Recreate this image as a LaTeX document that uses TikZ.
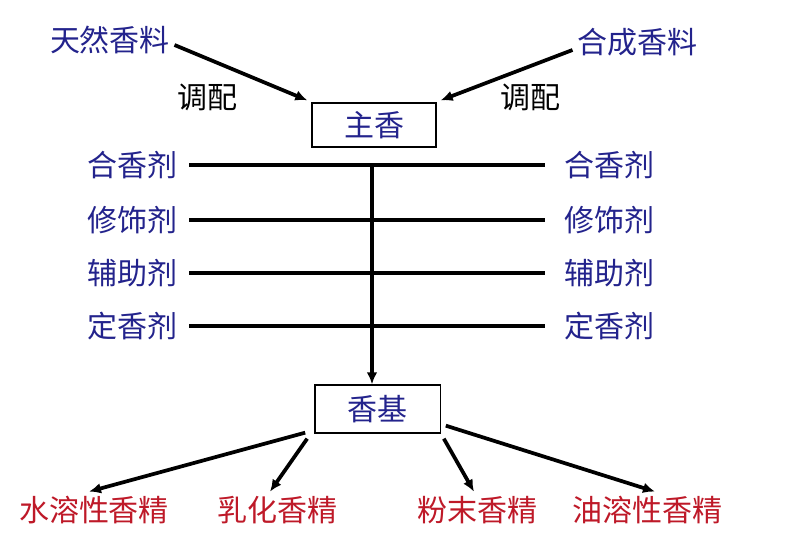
\documentclass[tikz,border=0pt]{standalone}
\usepackage{fontspec}
\newfontfamily\cjk{Noto Sans CJK SC}
\usetikzlibrary{arrows.meta}

\definecolor{lanse}{RGB}{35,35,140}
\definecolor{hongse}{RGB}{190,25,40}

\tikzset{every picture/.style={line width=0.75pt}}
\tikzset{
  wenzi/.style={inner sep=0.75pt, font=\cjk\fontsize{22.5}{26}\selectfont},
  lanzi/.style={wenzi, text=lanse},
  hongzi/.style={wenzi, text=hongse},
  kuang/.style={draw, line width=1pt, inner sep=0pt, font=\cjk\fontsize{22.5}{26}\selectfont, text=lanse},
  jiantou/.style={line width=2.8pt, -{Latex[length=9pt,width=8pt]}},
  hengxian/.style={line width=2.8pt}
}

\begin{document}
\begin{tikzpicture}[x=0.75pt,y=0.75pt,yscale=-1,xscale=1]
\useasboundingbox (0,0) rectangle (800,555);

% Text Node
\node [lanzi] (trxl) at (110,40) {天然香料};
% Text Node
\node [lanzi] (hcxl) at (637,42) {合成香料};
% Text Node
\node [wenzi] (tp1) at (207,97) {调配};
% Text Node
\node [wenzi] (tp2) at (530,97) {调配};

% Boxes
\node [kuang, minimum width=93pt, minimum height=33pt] (zx) at (374,125) {主香};
\node [kuang, minimum width=94pt, minimum height=36pt] (jj) at (377.5,409) {香基};

% Text Node
\node [lanzi] (l1) at (132,165) {合香剂};
\node [lanzi] (l2) at (132,220) {修饰剂};
\node [lanzi] (l3) at (132,273) {辅助剂};
\node [lanzi] (l4) at (132,326) {定香剂};
\node [lanzi] (r1) at (609,165) {合香剂};
\node [lanzi] (r2) at (609,220) {修饰剂};
\node [lanzi] (r3) at (609,273) {辅助剂};
\node [lanzi] (r4) at (609,326) {定香剂};

% Text Node
\node [hongzi] (sj1) at (94,510) {水溶性香精};
\node [hongzi] (sj2) at (277,510) {乳化香精};
\node [hongzi] (sj3) at (477,510) {粉末香精};
\node [hongzi] (sj4) at (647,510) {油溶性香精};

%Straight Lines
\draw [jiantou] ([shift={(3,5)}]trxl.east) -- ([shift={(-4,-2)}]zx.north west);
\draw [jiantou] ([shift={(-3,8)}]hcxl.west) -- ([shift={(4,-2)}]zx.north east);
%Straight Lines
\foreach \i in {1,...,4}
  \draw [hengxian] ([xshift=8]l\i.east) -- ([xshift=-13]r\i.west);
\coordinate (zhong) at (372,165);
\draw [jiantou, line width=2.4pt] (zhong) -- (zhong |- jj.north);
%Straight Lines
\draw [jiantou] ([shift={(-9,-1)}]jj.south west) -- ([shift={(-5,-3)}]sj1.north);
\draw [jiantou] ([shift={(-7,5)}]jj.south west) -- ([shift={(-7,-3)}]sj2.north);
\draw [jiantou] ([shift={(3,5)}]jj.south east) -- ([shift={(-3,-3)}]sj3.north);
\draw [jiantou] ([shift={(5,-8)}]jj.south east) -- ([shift={(8,-3)}]sj4.north);

\end{tikzpicture}
\end{document}
